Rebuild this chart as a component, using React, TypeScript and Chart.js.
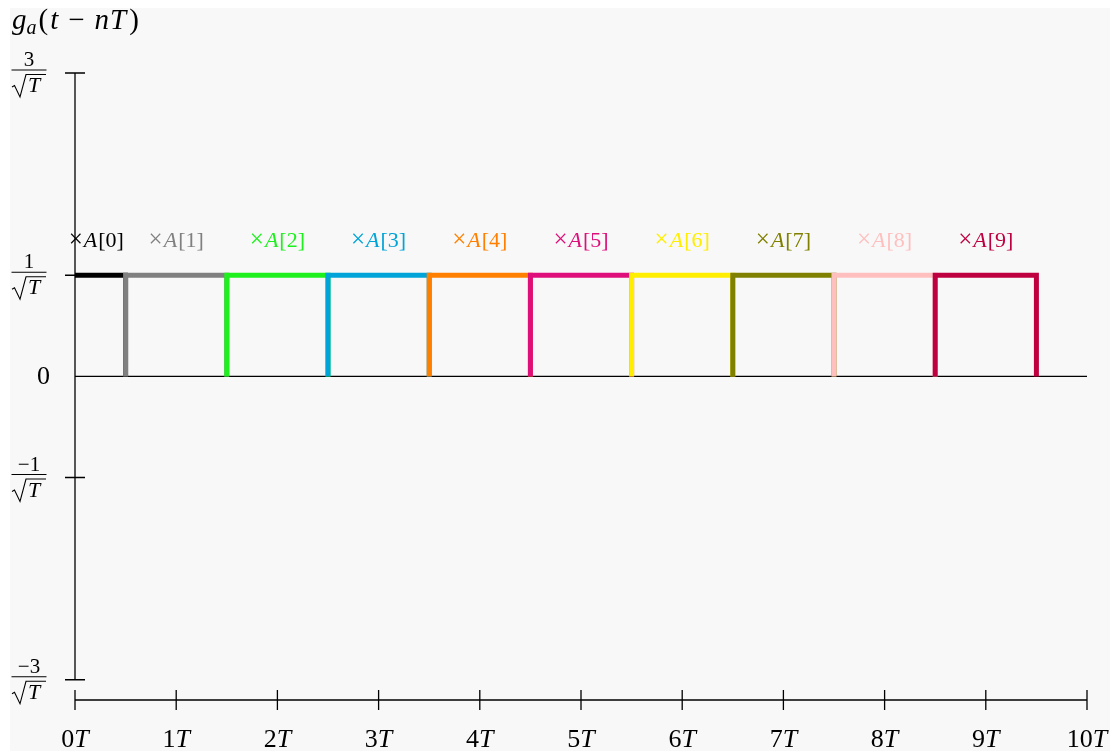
import { useEffect, useRef } from "react";
import { Chart, registerables } from "chart.js";

Chart.register(...registerables);

// ---- data ----
const pulseCenters = [0, 1, 2, 3, 4, 5, 6, 7, 8, 9];
const pulseAmplitudes = [1, 1, 1, 1, 1, 1, 1, 1, 1, 1];
const pulseWidth = 1;
const pulseColors = [
  "#000000",
  "#808080",
  "#1ef01e",
  "#00a4d8",
  "#ff8000",
  "#de0f7b",
  "#ffee00",
  "#808000",
  "#ffbfbf",
  "#bf0040",
];
const pulseLabelIndex = ["0", "1", "2", "3", "4", "5", "6", "7", "8", "9"];
const labelLevel = 1.35;
const yTickValues = [3, 1, -1, -3];
const yTickNumerators = ["3", "1", "−1", "−3"];
const zeroLabel = "0";
const xTickValues = [0, 1, 2, 3, 4, 5, 6, 7, 8, 9, 10];
const xTickDigits = ["0", "1", "2", "3", "4", "5", "6", "7", "8", "9", "10"];
const xRange = [0, 10];
const yRange = [-3.2, 3];
const yAxisSpan = [-3, 3];

const SERIF = "'Liberation Serif', 'DejaVu Serif', serif";
const up = (s: number) => `${s}px ${SERIF}`;
const it = (s: number) => `italic ${s}px ${SERIF}`;

type Run = { text: string; font: string; dy?: number; gap?: number };

function runsWidth(ctx: CanvasRenderingContext2D, runs: Run[]) {
  let w = 0;
  for (const r of runs) {
    ctx.font = r.font;
    w += ctx.measureText(r.text).width + (r.gap || 0);
  }
  return w;
}

function drawRuns(
  ctx: CanvasRenderingContext2D,
  runs: Run[],
  x: number,
  y: number,
  align: "left" | "center" | "right",
  color: string
) {
  const w = runsWidth(ctx, runs);
  let cx = align === "left" ? x : align === "center" ? x - w / 2 : x - w;
  ctx.fillStyle = color;
  ctx.textAlign = "left";
  ctx.textBaseline = "alphabetic";
  for (const r of runs) {
    ctx.font = r.font;
    ctx.fillText(r.text, cx, y + (r.dy || 0));
    cx += ctx.measureText(r.text).width + (r.gap || 0);
  }
}

function drawFraction(ctx: CanvasRenderingContext2D, num: string, cx: number, py: number) {
  const yb = py - 3;
  ctx.save();
  ctx.strokeStyle = "#000";
  ctx.fillStyle = "#000";
  ctx.lineWidth = 1.2;
  ctx.beginPath();
  ctx.moveTo(cx - 17.5, yb);
  ctx.lineTo(cx + 17.5, yb);
  ctx.stroke();
  ctx.font = up(21);
  ctx.textAlign = "center";
  ctx.textBaseline = "alphabetic";
  ctx.fillText(num, cx, yb - 4);
  // radical
  ctx.lineWidth = 1.1;
  ctx.beginPath();
  ctx.moveTo(cx - 17, yb + 17);
  ctx.lineTo(cx - 14.5, yb + 15.5);
  ctx.lineTo(cx - 9, yb + 27);
  ctx.lineTo(cx - 3, yb + 4.5);
  ctx.lineTo(cx + 17, yb + 4.5);
  ctx.stroke();
  ctx.font = it(22);
  ctx.textAlign = "left";
  ctx.fillText("T", cx - 1, yb + 22);
  ctx.restore();
}

const mathPlugin = {
  id: "mathAxes",
  beforeDatasetsDraw(chart: any) {
    const { ctx, scales } = chart;
    const xs = scales.x;
    const ys = scales.y;
    ctx.save();
    ctx.strokeStyle = "#000";
    ctx.lineWidth = 1.3;
    const x0 = xs.getPixelForValue(xRange[0]);
    const x1 = xs.getPixelForValue(xRange[1]);
    ctx.beginPath();
    ctx.moveTo(x0, ys.getPixelForValue(yAxisSpan[1]));
    ctx.lineTo(x0, ys.getPixelForValue(yAxisSpan[0]));
    for (const v of yTickValues) {
      const py = ys.getPixelForValue(v);
      ctx.moveTo(x0 - 10, py);
      ctx.lineTo(x0 + 10, py);
    }
    const pz = ys.getPixelForValue(0);
    ctx.moveTo(x0, pz);
    ctx.lineTo(x1, pz);
    const pb = ys.getPixelForValue(yRange[0]);
    ctx.moveTo(x0, pb);
    ctx.lineTo(x1, pb);
    for (const v of xTickValues) {
      const px = xs.getPixelForValue(v);
      ctx.moveTo(px, pb - 10);
      ctx.lineTo(px, pb + 10);
    }
    ctx.stroke();
    ctx.restore();
  },
  afterDatasetsDraw(chart: any) {
    const { ctx, scales } = chart;
    const xs = scales.x;
    const ys = scales.y;
    const x0 = xs.getPixelForValue(xRange[0]);
    ctx.save();
    // title g_a(t - nT)
    drawRuns(
      ctx,
      [
        { text: "g", font: it(29) },
        { text: "a", font: it(20), dy: 5, gap: 2 },
        { text: "(", font: up(29), gap: 2 },
        { text: "t", font: it(29), gap: 10 },
        { text: "−", font: up(29), gap: 10 },
        { text: "n", font: it(29), gap: 1 },
        { text: "T", font: it(29), gap: 3 },
        { text: ")", font: up(29) },
      ],
      2,
      21,
      "left",
      "#000"
    );
    // y tick labels
    yTickValues.forEach((v, i) => {
      drawFraction(ctx, yTickNumerators[i], 19, ys.getPixelForValue(v));
    });
    ctx.font = up(26);
    ctx.fillStyle = "#000";
    ctx.textAlign = "right";
    ctx.textBaseline = "middle";
    ctx.fillText(zeroLabel, 40, ys.getPixelForValue(0) + 1);
    // x tick labels
    const pb = ys.getPixelForValue(yRange[0]);
    xTickValues.forEach((v, i) => {
      drawRuns(
        ctx,
        [
          { text: xTickDigits[i], font: up(26) },
          { text: "T", font: it(26) },
        ],
        xs.getPixelForValue(v),
        pb + 47,
        "center",
        "#000"
      );
    });
    // pulse labels
    pulseCenters.forEach((c, i) => {
      const left = Math.max(c - pulseWidth / 2, xRange[0]);
      const right = c + pulseWidth / 2;
      const mid = (left + right) / 2;
      const px = i === 0 ? Math.max(xs.getPixelForValue(mid) - 4, x0) : xs.getPixelForValue(mid);
      drawRuns(
        ctx,
        [
          { text: "×", font: up(25), gap: 1 },
          { text: "A", font: it(22), gap: 1 },
          { text: "[" + pulseLabelIndex[i] + "]", font: up(22) },
        ],
        px,
        ys.getPixelForValue(labelLevel) + 7,
        "center",
        pulseColors[i]
      );
    });
    ctx.restore();
  },
};

export default function App() {
  const ref = useRef<HTMLCanvasElement | null>(null);
  useEffect(() => {
    if (!ref.current) return;
    const datasets = pulseCenters.map((c, i) => {
      const a = pulseAmplitudes[i];
      const l = c - pulseWidth / 2;
      const r = c + pulseWidth / 2;
      return {
        label: "A[" + pulseLabelIndex[i] + "]",
        data: [
          { x: l, y: 0 },
          { x: l, y: a },
          { x: r, y: a },
          { x: r, y: 0 },
        ],
        borderColor: pulseColors[i],
        backgroundColor: pulseColors[i],
        borderWidth: 5,
        pointRadius: 0,
        tension: 0,
        fill: false,
        borderJoinStyle: "miter" as const,
        borderCapStyle: "butt" as const,
        order: pulseCenters.length - i,
        clip: { left: 0, top: 5, right: 5, bottom: 5 },
      };
    });
    const chart = new Chart(ref.current, {
      type: "line",
      data: { datasets },
      options: {
        animation: false,
        responsive: false,
        devicePixelRatio: 1,
        events: [],
        layout: { padding: { left: 65, top: 65, right: 23, bottom: 51 } },
        plugins: { legend: { display: false }, tooltip: { enabled: false }, title: { display: false } },
        scales: {
          x: { type: "linear", min: xRange[0], max: xRange[1], display: false },
          y: { type: "linear", min: yRange[0], max: yRange[1], display: false },
        },
      },
      plugins: [mathPlugin],
    });
    return () => chart.destroy();
  }, []);
  return (
    <div
      style={{
        position: "fixed",
        left: 10,
        top: 8,
        width: 1100,
        height: 743,
        background: "#f8f8f8",
      }}
    >
      <canvas ref={ref} width={1100} height={743} style={{ display: "block" }} />
    </div>
  );
}
